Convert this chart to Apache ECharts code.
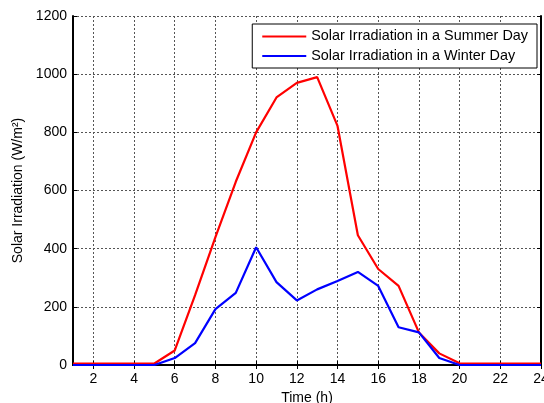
<!DOCTYPE html>
<html>
<head>
<meta charset="utf-8">
<script src="https://cdn.jsdelivr.net/npm/echarts@6/dist/echarts.min.js"></script>
<style>
  html, body { margin: 0; padding: 0; background: #fff; }
  #chart { width: 544px; height: 403px; }
</style>
</head>
<body>
<div id="chart"></div>
<script>
// hours of the day
const hours = ['1', '2', '3', '4', '5', '6', '7', '8', '9', '10', '11', '12',
  '13', '14', '15', '16', '17', '18', '19', '20', '21', '22', '23', '24']
// W/m^2
const summerDay = [5, 5, 5, 5, 5, 50, 240, 440, 630, 800, 920, 970,
  990, 822, 446, 330, 272, 112, 40, 6, 5, 5, 5, 5]
const winterDay = [0, 0, 0, 0, 0, 24, 75, 192, 248, 405, 285, 222,
  260, 289, 320, 272, 130, 112, 24, 0, 0, 0, 0, 0]

const font = 'Liberation Sans, Arial, sans-serif'
const evenHour = (i, v) => Number(v) % 2 === 0

const chart = echarts.init(document.getElementById('chart'))
chart.setOption({
  animation: false,
  textStyle: { fontFamily: font },
  grid: { left: 73, right: 3, top: 16, bottom: 38, outerBoundsMode: 'none', containLabel: false },
  legend: {
    orient: 'vertical',
    right: 7,
    top: 24,
    icon: 'rect',
    itemWidth: 44,
    itemHeight: 2,
    itemGap: 5.5,
    padding: [5.5, 9, 5, 10],
    borderColor: '#000',
    borderWidth: 1,
    backgroundColor: '#fff',
    textStyle: { fontSize: 14.4, color: '#000', fontFamily: font },
    data: ['Solar Irradiation in a Summer Day', 'Solar Irradiation in a Winter Day']
  },
  xAxis: [
    {
      type: 'category',
      data: hours,
      boundaryGap: false,
      name: 'Time (h)',
      nameLocation: 'middle',
      nameGap: 25,
      nameTextStyle: { fontSize: 14, color: '#000' },
      axisLine: { lineStyle: { color: '#000', width: 2 } },
      axisTick: { inside: true, length: 4, interval: evenHour, lineStyle: { color: '#000' } },
      axisLabel: { interval: evenHour, fontSize: 14, color: '#000', margin: 7 },
      splitLine: {
        show: true,
        interval: evenHour,
        lineStyle: { color: '#555', type: [2, 2], width: 1 }
      }
    },
    {
      type: 'category',
      data: hours,
      boundaryGap: false,
      position: 'top',
      axisLine: { lineStyle: { color: '#000', width: 2 } },
      axisTick: { inside: true, length: 4, interval: evenHour, lineStyle: { color: '#000' } },
      axisLabel: { show: false },
      splitLine: { show: false }
    }
  ],
  yAxis: [
    {
      type: 'value',
      min: 0,
      max: 1200,
      interval: 200,
      name: 'Solar Irradiation (W/m²)',
      nameLocation: 'middle',
      nameGap: 40,
      nameTextStyle: { fontSize: 14, color: '#000' },
      axisLine: { show: true, lineStyle: { color: '#000', width: 2 } },
      axisTick: { show: true, inside: true, length: 4, lineStyle: { color: '#000' } },
      axisLabel: { fontSize: 14, color: '#000', margin: 6, formatter: v => String(v) },
      splitLine: { lineStyle: { color: '#555', type: [2, 2], width: 1 } }
    },
    {
      type: 'value',
      min: 0,
      max: 1200,
      interval: 200,
      position: 'right',
      axisLine: { show: true, lineStyle: { color: '#000', width: 2 } },
      axisTick: { show: true, inside: true, length: 4, lineStyle: { color: '#000' } },
      axisLabel: { show: false },
      splitLine: { show: false }
    }
  ],
  series: [
    {
      name: 'Solar Irradiation in a Summer Day',
      type: 'line',
      data: summerDay,
      symbol: 'none',
      color: '#ff0000',
      lineStyle: { color: '#ff0000', width: 2.2 }
    },
    {
      name: 'Solar Irradiation in a Winter Day',
      type: 'line',
      data: winterDay,
      symbol: 'none',
      color: '#0000ff',
      lineStyle: { color: '#0000ff', width: 2.2 }
    }
  ]
})
</script>
</body>
</html>
